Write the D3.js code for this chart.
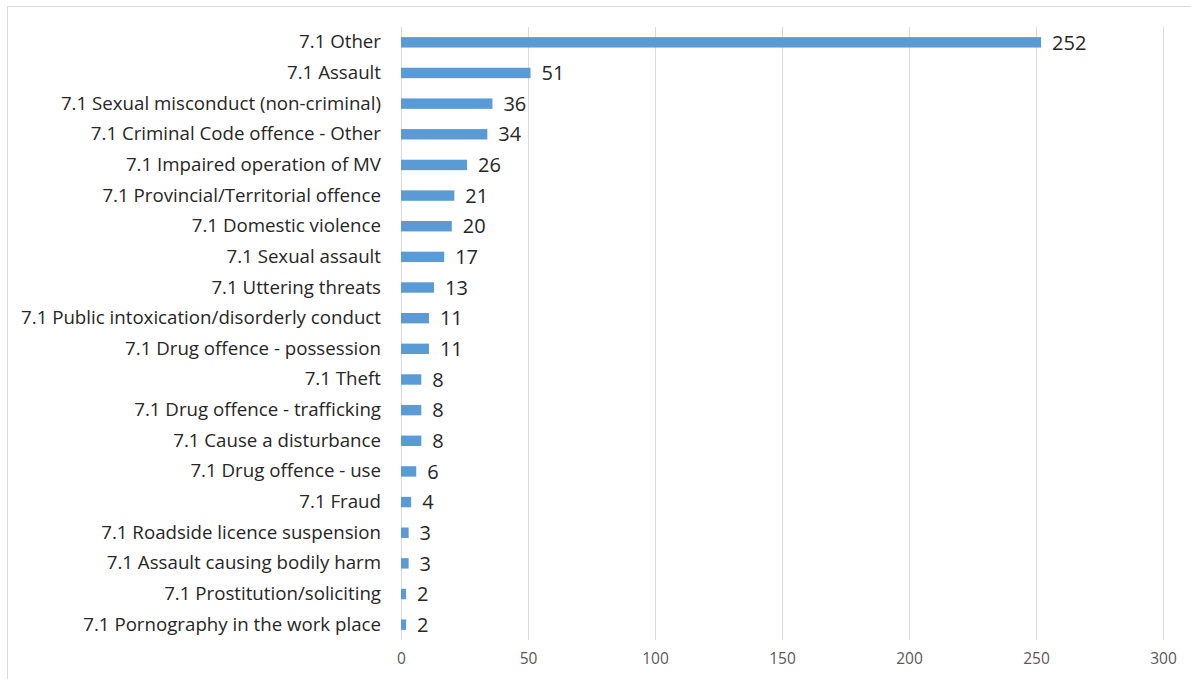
<!DOCTYPE html>
<html>
<head>
<meta charset="utf-8">
<script src="https://cdn.jsdelivr.net/npm/d3@7"></script>
<style>
  body { margin: 0; background: #fff; }
  svg { display: block; }
</style>
</head>
<body>
<div id="vis"></div>
<script>
var categories = [
  "7.1 Other",
  "7.1 Assault",
  "7.1 Sexual misconduct (non-criminal)",
  "7.1 Criminal Code offence - Other",
  "7.1 Impaired operation of MV",
  "7.1 Provincial/Territorial offence",
  "7.1 Domestic violence",
  "7.1 Sexual assault",
  "7.1 Uttering threats",
  "7.1 Public intoxication/disorderly conduct",
  "7.1 Drug offence - possession",
  "7.1 Theft",
  "7.1 Drug offence - trafficking",
  "7.1 Cause a disturbance",
  "7.1 Drug offence - use",
  "7.1 Fraud",
  "7.1 Roadside licence suspension",
  "7.1 Assault causing bodily harm",
  "7.1 Prostitution/soliciting",
  "7.1 Pornography in the work place"
];
var counts = [252, 51, 36, 34, 26, 21, 20, 17, 13, 11, 11, 8, 8, 8, 6, 4, 3, 3, 2, 2];
var xTicks = [0, 50, 100, 150, 200, 250, 300];

var width = 1191, height = 679;
var data = categories.map((c, i) => ({name: c, value: counts[i]}));

var svg = d3.select("#vis").append("svg")
  .attr("width", width).attr("height", height);

// chart frame
svg.append("rect")
  .attr("x", 7.5).attr("y", 6.5)
  .attr("width", 1200).attr("height", 700)
  .attr("fill", "none")
  .attr("stroke", "#d9d9d9");

var x = d3.scaleLinear().domain([0, 300]).range([401, 1163]);
var y = d3.scaleBand()
  .domain(categories)
  .range([27, 640])
  .paddingInner(0.66)
  .paddingOuter(0.33);

// gridlines
svg.append("g")
  .selectAll("line")
  .data(xTicks)
  .join("line")
  .attr("x1", d => x(d) + 0.5).attr("x2", d => x(d) + 0.5)
  .attr("y1", 27).attr("y2", 640)
  .attr("stroke", "#d9d9d9")
  .attr("stroke-width", 1);

// x axis labels
var xAxis = svg.append("g")
  .attr("transform", "translate(0,640)")
  .call(d3.axisBottom(x).tickValues(xTicks).tickSize(0).tickPadding(13));
xAxis.select(".domain").remove();
xAxis.selectAll("text")
  .attr("fill", "#595959")
  .style("font-family", "'Open Sans', sans-serif")
  .style("font-size", "15.5px");

// category labels
var yAxis = svg.append("g")
  .attr("transform", "translate(392,0)")
  .call(d3.axisLeft(y).tickSize(0).tickPadding(11));
yAxis.select(".domain").remove();
yAxis.selectAll("text")
  .attr("fill", "#262626")
  .style("font-family", "'Open Sans', sans-serif")
  .style("font-size", "18.7px");

// bars
svg.append("g")
  .selectAll("rect")
  .data(data)
  .join("rect")
  .attr("x", x(0))
  .attr("y", d => y(d.name))
  .attr("width", d => x(d.value) - x(0))
  .attr("height", y.bandwidth())
  .attr("fill", "#5b9bd5");

// value labels
svg.append("g")
  .selectAll("text")
  .data(data)
  .join("text")
  .attr("x", d => x(d.value) + 11)
  .attr("y", d => y(d.name) + y.bandwidth() / 2)
  .attr("dy", "0.36em")
  .attr("fill", "#262626")
  .style("font-family", "'Open Sans', sans-serif")
  .style("font-size", "20px")
  .text(d => d.value);
</script>
</body>
</html>
